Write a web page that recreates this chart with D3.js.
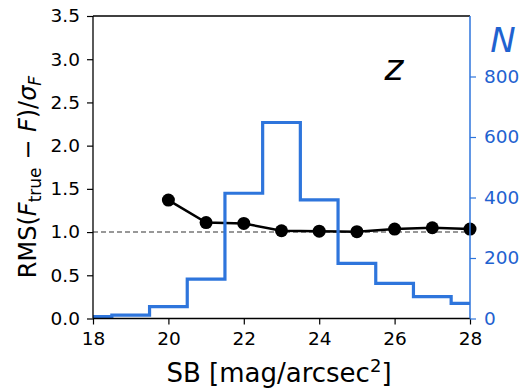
<!DOCTYPE html>
<html><head><meta charset="utf-8">
<script src="https://cdn.jsdelivr.net/npm/d3@7"></script>
<style>body{margin:0;background:#fff;} svg{display:block;font-family:"DejaVu Sans",sans-serif;}</style>
</head><body>
<svg id="c" width="520" height="388"></svg>
<script>
// Data
const sbPoints = [20, 21, 22, 23, 24, 25, 26, 27, 28];
const rmsValues = [1.37, 1.11, 1.10, 1.015, 1.01, 1.005, 1.035, 1.05, 1.035];
const histCenters = [18, 19, 20, 21, 22, 23, 24, 25, 26, 27, 28];
const histCounts = [6, 11, 39, 130, 414, 648, 392, 182, 116, 72, 50];
const xTicks = [18, 20, 22, 24, 26, 28];
const yTicks = [0.0, 0.5, 1.0, 1.5, 2.0, 2.5, 3.0, 3.5];
const nTicks = [0, 200, 400, 600, 800];

const blue = "#2e75dc";
const blueText = "#1f62d0";
const svg = d3.select("#c");
const L = 93, R = 470, T = 16, B = 318.5;
const x = d3.scaleLinear().domain([18, 28]).range([L, R]);
const y = d3.scaleLinear().domain([0, 3.5]).range([B, T]);
const yN = d3.scaleLinear().domain([0, 1000]).range([B, T]);

// dashed reference line
svg.append("line").attr("x1", L).attr("x2", R).attr("y1", y(1)).attr("y2", y(1))
  .attr("stroke", "#333").attr("stroke-width", 1.1).attr("stroke-dasharray", "5,3");

// black line with markers
const line = d3.line().x((d, i) => x(sbPoints[i])).y(d => y(d));
svg.append("path").datum(rmsValues).attr("d", line).attr("fill", "none")
  .attr("stroke", "#000").attr("stroke-width", 2.5);
svg.selectAll("circle.pt").data(rmsValues).enter().append("circle")
  .attr("cx", (d, i) => x(sbPoints[i])).attr("cy", d => y(d)).attr("r", 6.5).attr("fill", "#000");

// histogram step
let pts = [];
histCenters.forEach((c, i) => {
  const x0 = Math.max(c - 0.5, 18), x1 = Math.min(c + 0.5, 28);
  pts.push([x(x0), yN(histCounts[i])]);
  pts.push([x(x1), yN(histCounts[i])]);
});
svg.append("path").attr("d", d3.line()(pts)).attr("fill", "none")
  .attr("stroke", blue).attr("stroke-width", 3.2);

// axes
const fs = 18.5;
const ax = svg.append("g").attr("transform", `translate(0,${B})`)
  .call(d3.axisBottom(x).tickValues(xTicks).tickSize(6).tickPadding(7).tickFormat(d3.format("d")));
const ay = svg.append("g").attr("transform", `translate(${L},0)`)
  .call(d3.axisLeft(y).tickValues(yTicks).tickSize(6).tickPadding(7).tickFormat(d3.format(".1f")));
const ar = svg.append("g").attr("transform", `translate(${R},0)`)
  .call(d3.axisRight(yN).tickValues(nTicks).tickSize(6).tickPadding(8).tickFormat(d3.format("d")));
[ax, ay, ar].forEach(g => {
  g.select(".domain").remove();
  g.selectAll("text").attr("font-size", fs).attr("font-family", "DejaVu Sans").attr("fill", "#000");
  g.selectAll("line").attr("stroke", "#000").attr("stroke-width", 1.2);
});
ar.selectAll("text").attr("fill", blueText);
ar.selectAll("line").attr("stroke", blue);

// spines
svg.append("line").attr("x1", L).attr("x2", R).attr("y1", T).attr("y2", T).attr("stroke", "#000").attr("stroke-width", 1.3);
svg.append("line").attr("x1", L).attr("x2", R).attr("y1", B).attr("y2", B).attr("stroke", "#000").attr("stroke-width", 1.3);
svg.append("line").attr("x1", L).attr("x2", L).attr("y1", T).attr("y2", B).attr("stroke", "#000").attr("stroke-width", 1.3);
svg.append("line").attr("x1", R).attr("x2", R).attr("y1", T).attr("y2", B).attr("stroke", blue).attr("stroke-width", 1.5);

// labels
svg.append("text").attr("x", 279).attr("y", 382).attr("text-anchor", "middle").attr("font-size", 26)
  .html('SB [mag/arcsec<tspan dy="-10" font-size="18">2</tspan><tspan dy="10">]</tspan>');
const yl = svg.append("text").attr("transform", "translate(36,177) rotate(-90)")
  .attr("text-anchor", "middle").attr("font-size", 24);
yl.html('RMS(<tspan font-style="italic">F</tspan><tspan dy="5" font-size="17">true</tspan><tspan dy="-5"> − </tspan><tspan font-style="italic">F</tspan>)/<tspan font-style="italic">σ</tspan><tspan dy="5" font-size="17" font-style="italic">F</tspan>');
svg.append("text").attr("x", 394).attr("y", 80).attr("text-anchor", "middle").attr("font-size", 36)
  .attr("font-style", "italic").text("z");
svg.append("text").attr("x", 503).attr("y", 52).attr("text-anchor", "middle").attr("font-size", 34)
  .attr("font-style", "italic").attr("fill", blueText).text("N");
</script>
</body></html>
